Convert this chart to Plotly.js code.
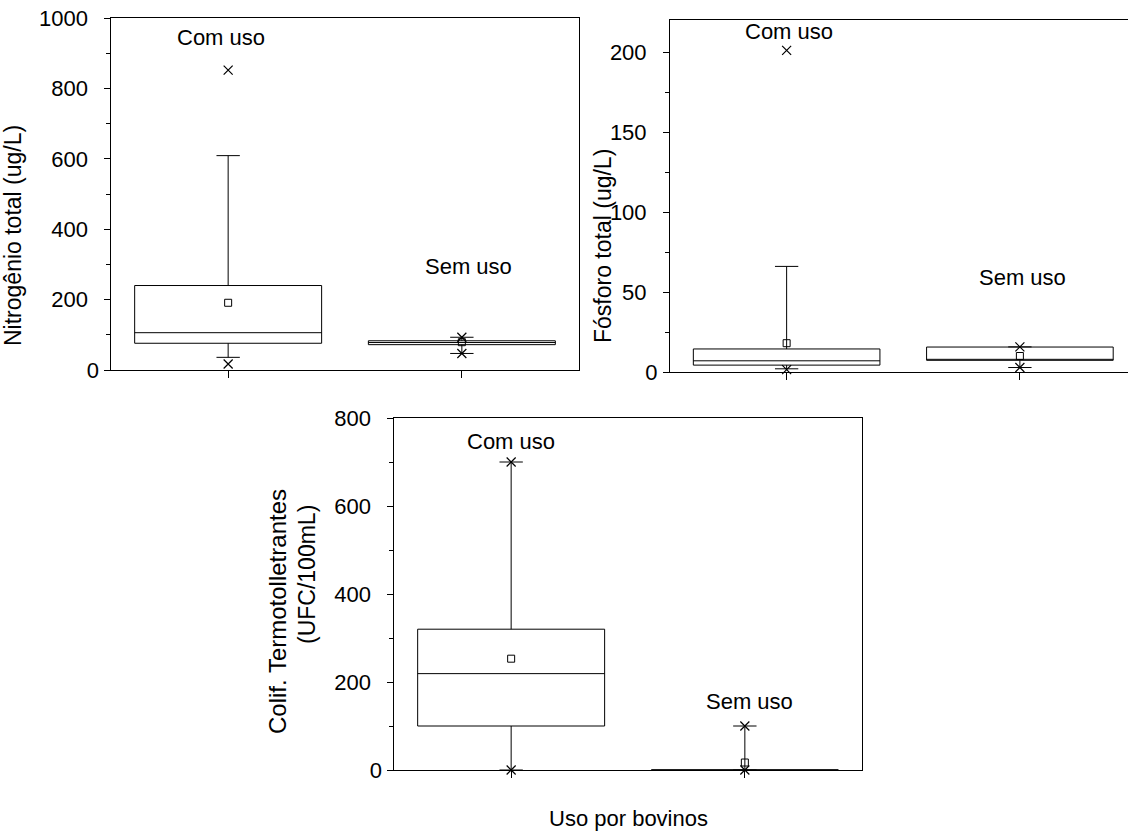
<!DOCTYPE html>
<html>
<head>
<meta charset="utf-8">
<script src="https://cdn.plot.ly/plotly-3.0.1.min.js"></script>
<style>html,body{margin:0;padding:0;background:#fff;}#chart{width:1128px;height:837px;}</style>
</head>
<body>
<div id="chart"></div>
<script>
// Categories
const categories = ['Com uso', 'Sem uso'];
const xpos = [1, 2];

// Nitrogênio total (ug/L)
const nQ1 = [76, 72];
const nMedian = [106, 78];
const nQ3 = [240, 83];
const nLowerWhisker = [36, 47];
const nUpperWhisker = [609, 93];
const nMean = [191, 79];
const nMin = [17, 47];
const nMax = [852, 93];

// Fósforo total (ug/L)
const pQ1 = [4.3, 7.3];
const pMedian = [7.0, 7.3];
const pQ3 = [14.4, 15.6];
const pLowerWhisker = [2.0, 2.8];
const pUpperWhisker = [66, 15.7];
const pMean = [18, 10];
const pMin = [1.5, 2.8];
const pMax = [201, 15.7];

// Colif. Termotolerantes (UFC/100mL)
const cQ1 = [100, 0];
const cMedian = [219, 0];
const cQ3 = [320, 0];
const cLowerWhisker = [0, 0];
const cUpperWhisker = [700, 100];
const cMean = [253, 17];
const cMin = [0, 0];
const cMax = [700, 100];

// Axis tick values and labels
const nTicks = [0, 200, 400, 600, 800, 1000];
const nTickText = ['0', '200', '400', '600', '800', '1000'];
const pTicks = [0, 50, 100, 150, 200];
const pTickText = ['0', '50', '100', '150', '200'];
const cTicks = [0, 200, 400, 600, 800];
const cTickText = ['0', '200', '400', '600', '800'];

const FONT = 'Liberation Sans, Arial, sans-serif';
const PAD = '\u2002'; // the reference draws every label except "0" a little further from the axis

function boxTrace(xa, ya, q1, med, q3, lo, hi) {
  return {
    type: 'box', xaxis: xa, yaxis: ya, x: xpos,
    q1: q1, median: med, q3: q3, lowerfence: lo, upperfence: hi,
    boxpoints: false, width: 0.8, whiskerwidth: 0.125,
    line: {color: '#000', width: 1}, fillcolor: 'rgba(255,255,255,0)',
    hoverinfo: 'skip', name: ''
  };
}
function meanTrace(xa, ya, m) {
  return {type: 'scatter', mode: 'markers', xaxis: xa, yaxis: ya, x: xpos, y: m,
    marker: {symbol: 'square-open', size: 7, color: '#000', line: {width: 1, color: '#000'}},
    hoverinfo: 'skip', cliponaxis: false};
}
function extremeTrace(xa, ya, mn, mx) {
  return {type: 'scatter', mode: 'markers', xaxis: xa, yaxis: ya,
    x: xpos.concat(xpos), y: mn.concat(mx),
    marker: {symbol: 'x-thin-open', size: 9, color: '#000', line: {width: 1.2, color: '#000'}},
    hoverinfo: 'skip', cliponaxis: false};
}

const data = [
  boxTrace('x', 'y', nQ1, nMedian, nQ3, nLowerWhisker, nUpperWhisker),
  meanTrace('x', 'y', nMean), extremeTrace('x', 'y', nMin, nMax),
  boxTrace('x2', 'y2', pQ1, pMedian, pQ3, pLowerWhisker, pUpperWhisker),
  meanTrace('x2', 'y2', pMean), extremeTrace('x2', 'y2', pMin, pMax),
  boxTrace('x3', 'y3', cQ1, cMedian, cQ3, cLowerWhisker, cUpperWhisker),
  meanTrace('x3', 'y3', cMean), extremeTrace('x3', 'y3', cMin, cMax)
];

const W = 1128, H = 837;
function xd(a, b) { return [a / W, b / W]; }
function yd(top, bottom) { return [1 - bottom / H, 1 - top / H]; }

function xAxis(domain, anchor, range, mirror) {
  return {domain: domain, anchor: anchor, range: range, tickvals: xpos, ticktext: ['', ''],
    showticklabels: false, ticks: 'outside', ticklen: 7, tickcolor: '#000', tickwidth: 1,
    showline: true, linecolor: '#000', linewidth: 1, mirror: mirror,
    showgrid: false, zeroline: false, fixedrange: true};
}
function yAxis(domain, anchor, range, tickvals, ticktext, minorDtick, mirror) {
  return {domain: domain, anchor: anchor, range: range, tickvals: tickvals,
    ticktext: ticktext.map(t => t === '0' ? t : t + PAD),
    ticks: 'outside', ticklen: 6, tickcolor: '#000', tickwidth: 1,
    minor: {ticks: 'outside', ticklen: 4, tickcolor: '#000', tickwidth: 1, dtick: minorDtick, tick0: 0, showgrid: false},
    ticklabelstandoff: 1,
    tickfont: {family: FONT, size: 22, color: '#000'},
    showline: true, linecolor: '#000', linewidth: 1, mirror: mirror,
    showgrid: false, zeroline: false, fixedrange: true};
}

const annFont = {family: FONT, size: 22, color: '#000'};
function ann(xref, yref, x, y, text) {
  return {xref: xref, yref: yref, x: x, y: y, text: text, showarrow: false, font: annFont,
    xanchor: 'center', yanchor: 'middle'};
}
function pann(xpx, ypx, text, angle, size) {
  return {xref: 'paper', yref: 'paper', x: xpx / W, y: 1 - ypx / H, text: text, showarrow: false,
    textangle: angle, font: {family: FONT, size: size, color: '#000'}, xanchor: 'center', yanchor: 'middle'};
}

const layout = {
  width: W, height: H,
  margin: {l: 0, r: 0, t: 0, b: 0},
  paper_bgcolor: '#fff', plot_bgcolor: 'rgba(0,0,0,0)',
  showlegend: false,
  xaxis: xAxis(xd(111.3, 578.7), 'y', [0.5, 2.5], true),
  yaxis: yAxis(yd(18, 370), 'x', [0, 1000], nTicks, nTickText, 100, true),
  xaxis2: xAxis(xd(670, 1128), 'y2', [0.5, 2.4635], true),
  yaxis2: yAxis(yd(20, 372), 'x2', [0, 220], pTicks, pTickText, 25, false),
  xaxis3: xAxis(xd(394.3, 861.7), 'y3', [0.5, 2.5], true),
  yaxis3: yAxis(yd(418, 770), 'x3', [0, 800], cTicks, cTickText, 100, true),
  annotations: [
    ann('x', 'y', 0.97, 946, categories[0]),
    ann('x', 'y', 2.03, 293, categories[1]),
    ann('x2', 'y2', 1.01, 213, categories[0]),
    ann('x2', 'y2', 2.01, 59, categories[1]),
    ann('x3', 'y3', 1.0, 746, categories[0]),
    ann('x3', 'y3', 2.02, 155, categories[1]),
    pann(13, 236, 'Nitrogênio total (ug/L)', -90, 23),
    pann(603, 246, 'Fósforo total (ug/L)', -90, 23),
    pann(277, 612, 'Colif. Termotolletrantes', -90, 24),
    pann(307, 575, '(UFC/100mL)', -90, 23),
    pann(628, 818, 'Uso por bovinos', 0, 22)
  ]
};

Plotly.newPlot('chart', data, layout, {staticPlot: true, displayModeBar: false});
</script>
</body>
</html>
